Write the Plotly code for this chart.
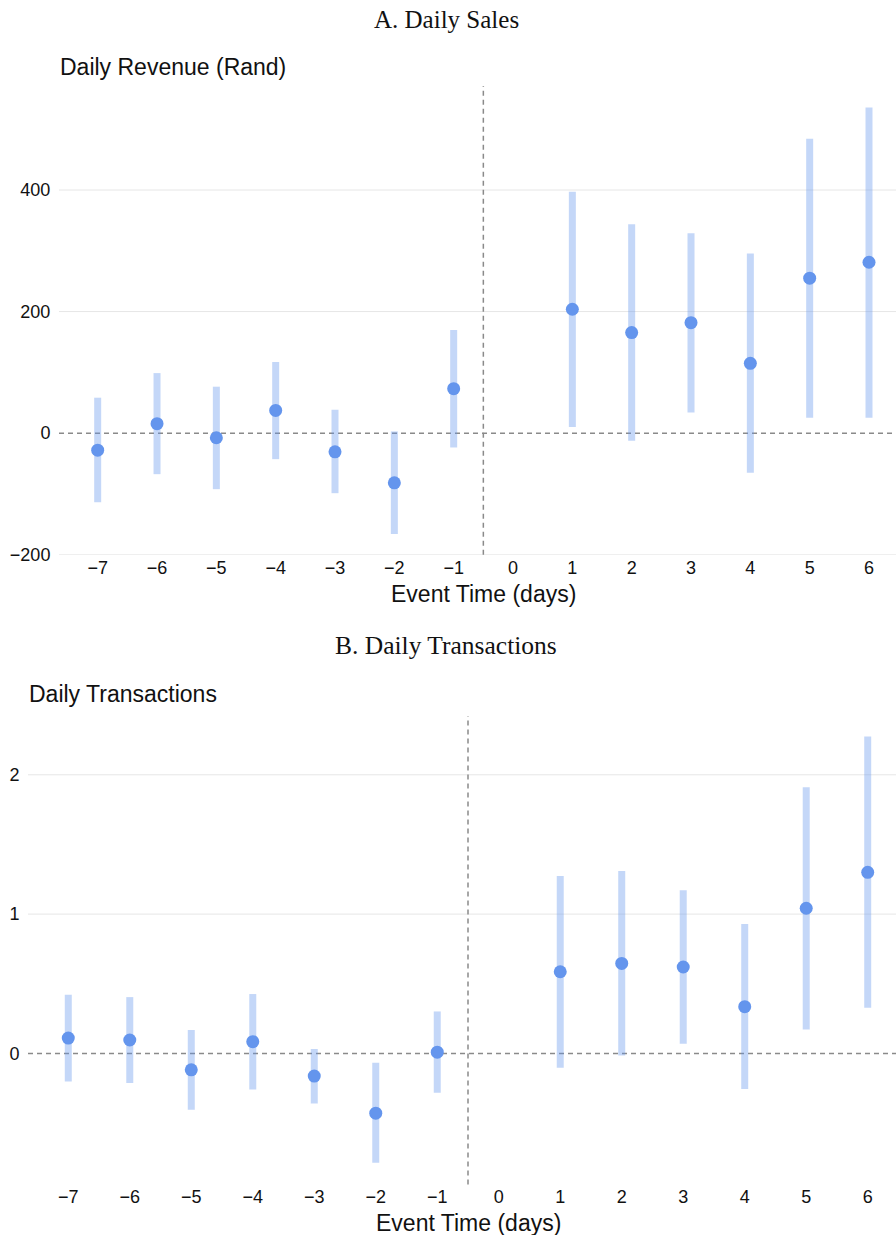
import plotly.graph_objects as go

# ---------------- data ----------------
event_time = [-7, -6, -5, -4, -3, -2, -1, 1, 2, 3, 4, 5, 6]

rev_est = [-28, 15.5, -7.6, 37.4, -30.7, -81.8, 73.1, 203.8, 165.4, 181.8, 114.8, 254.9, 281.2]
rev_lo = [-113.7, -67.5, -92.2, -42.8, -98.8, -166, -23.6, 9.9, -12.6, 34.1, -65.3, 25.4, 25.4]
rev_hi = [58.3, 98.8, 76.4, 117, 38.5, 2.8, 169.7, 397, 343.8, 329, 295.5, 484.4, 536]

tx_est = [0.110, 0.096, -0.118, 0.084, -0.163, -0.429, 0.009, 0.586, 0.646, 0.620, 0.335, 1.042, 1.300]
tx_lo = [-0.201, -0.213, -0.405, -0.259, -0.359, -0.786, -0.283, -0.103, -0.015, 0.069, -0.256, 0.172, 0.328]
tx_hi = [0.421, 0.404, 0.167, 0.426, 0.031, -0.067, 0.301, 1.274, 1.310, 1.171, 0.929, 1.911, 2.275]

x_ticks = list(range(-7, 7))
rev_ticks = [-200, 0, 200, 400]
tx_ticks = [0, 1, 2]

panel_titles = ["A. Daily Sales", "B. Daily Transactions"]
y_titles = ["Daily Revenue (Rand)", "Daily Transactions"]
x_title = "Event Time (days)"

# ---------------- style ----------------
W, H = 896, 1235
H_EFF = 1223.5  # effective rendered height used for pixel placement
PT = "#6495ED"
BAR = "rgba(100,149,237,0.38)"
SANS = "Liberation Sans, Arial, sans-serif"
SERIF = "Liberation Serif, DejaVu Serif, serif"
DASH = "#8a8a8a"
GRID = "#e6e6e6"


def px_y(p):
    return 1 - p / H_EFF


fig = go.Figure()


def add_panel(est, lo, hi, xa, ya):
    fig.add_trace(go.Scatter(
        x=event_time, y=est, mode="markers",
        xaxis=xa, yaxis=ya,
        marker=dict(color=PT, size=13, line=dict(width=0)),
        error_y=dict(type="data", symmetric=False,
                     array=[h - e for h, e in zip(hi, est)],
                     arrayminus=[e - l for e, l in zip(est, lo)],
                     color=BAR, thickness=7, width=0),
        showlegend=False, hoverinfo="skip",
    ))


add_panel(rev_est, rev_lo, rev_hi, "x", "y")
add_panel(tx_est, tx_lo, tx_hi, "x2", "y2")

tickfont = dict(family=SANS, size=18, color="#111")
xcommon = dict(showline=False, zeroline=False, showgrid=False, ticks="",
               tickfont=tickfont)
ycommon = dict(showline=False, zeroline=False, showgrid=False, ticks="outside",
               ticklen=4, tickcolor="rgba(0,0,0,0)", tickfont=tickfont)

fig.update_layout(
    width=W, height=H,
    margin=dict(l=0, r=0, t=0, b=0),
    paper_bgcolor="white", plot_bgcolor="white",
    showlegend=False,
    xaxis=dict(domain=[59 / W, 1], range=[-7.652, 6.455], tickvals=x_ticks,
               anchor="y", **xcommon),
    yaxis=dict(domain=[px_y(554), px_y(86)], range=[-200, 571], tickvals=rev_ticks,
               anchor="x", **ycommon),
    xaxis2=dict(domain=[28 / W, 1], range=[-7.655, 6.46], tickvals=x_ticks,
                anchor="y2", **xcommon),
    yaxis2=dict(domain=[px_y(1183), px_y(715)], range=[-0.941, 2.423], tickvals=tx_ticks,
                anchor="x2", **ycommon),
)

# gridlines (non-zero ticks) and dashed reference lines
for xr, yr, ticks in (("x", "y", rev_ticks), ("x2", "y2", tx_ticks)):
    for t in ticks:
        if t != 0:
            fig.add_shape(type="line", xref=xr + " domain", yref=yr, x0=0, x1=1, y0=t, y1=t,
                          line=dict(color=GRID, width=1), layer="below")
    fig.add_shape(type="line", xref=xr + " domain", yref=yr, x0=0, x1=1, y0=0, y1=0,
                  line=dict(color=DASH, width=1.5, dash="5px,4px"), layer="below")
    fig.add_shape(type="line", xref=xr, yref=yr + " domain", x0=-0.5, x1=-0.5, y0=0, y1=1,
                  line=dict(color=DASH, width=1.5, dash="5px,4px"), layer="below")

# titles & axis labels
fig.add_annotation(text=panel_titles[0], xref="paper", yref="paper", x=446 / W, y=px_y(19),
                   xanchor="center", yanchor="middle", showarrow=False,
                   font=dict(family=SERIF, size=25, color="#111"))
fig.add_annotation(text=panel_titles[1], xref="paper", yref="paper", x=446 / W, y=px_y(645),
                   xanchor="center", yanchor="middle", showarrow=False,
                   font=dict(family=SERIF, size=25.5, color="#111"))

fig.add_annotation(text=y_titles[0], xref="paper", yref="paper", x=58 / W, y=px_y(67),
                   xanchor="left", yanchor="middle", showarrow=False,
                   font=dict(family=SANS, size=23, color="#111"))
fig.add_annotation(text=y_titles[1], xref="paper", yref="paper", x=27 / W, y=px_y(693),
                   xanchor="left", yanchor="middle", showarrow=False,
                   font=dict(family=SANS, size=23, color="#111"))

fig.add_annotation(text=x_title, xref="x", yref="paper", x=-0.5, y=px_y(593),
                   xanchor="center", yanchor="middle", showarrow=False,
                   font=dict(family=SANS, size=23, color="#111"))
fig.add_annotation(text=x_title, xref="x2", yref="paper", x=-0.5, y=px_y(1222),
                   xanchor="center", yanchor="middle", showarrow=False,
                   font=dict(family=SANS, size=23, color="#111"))

fig.write_html("out.html")
